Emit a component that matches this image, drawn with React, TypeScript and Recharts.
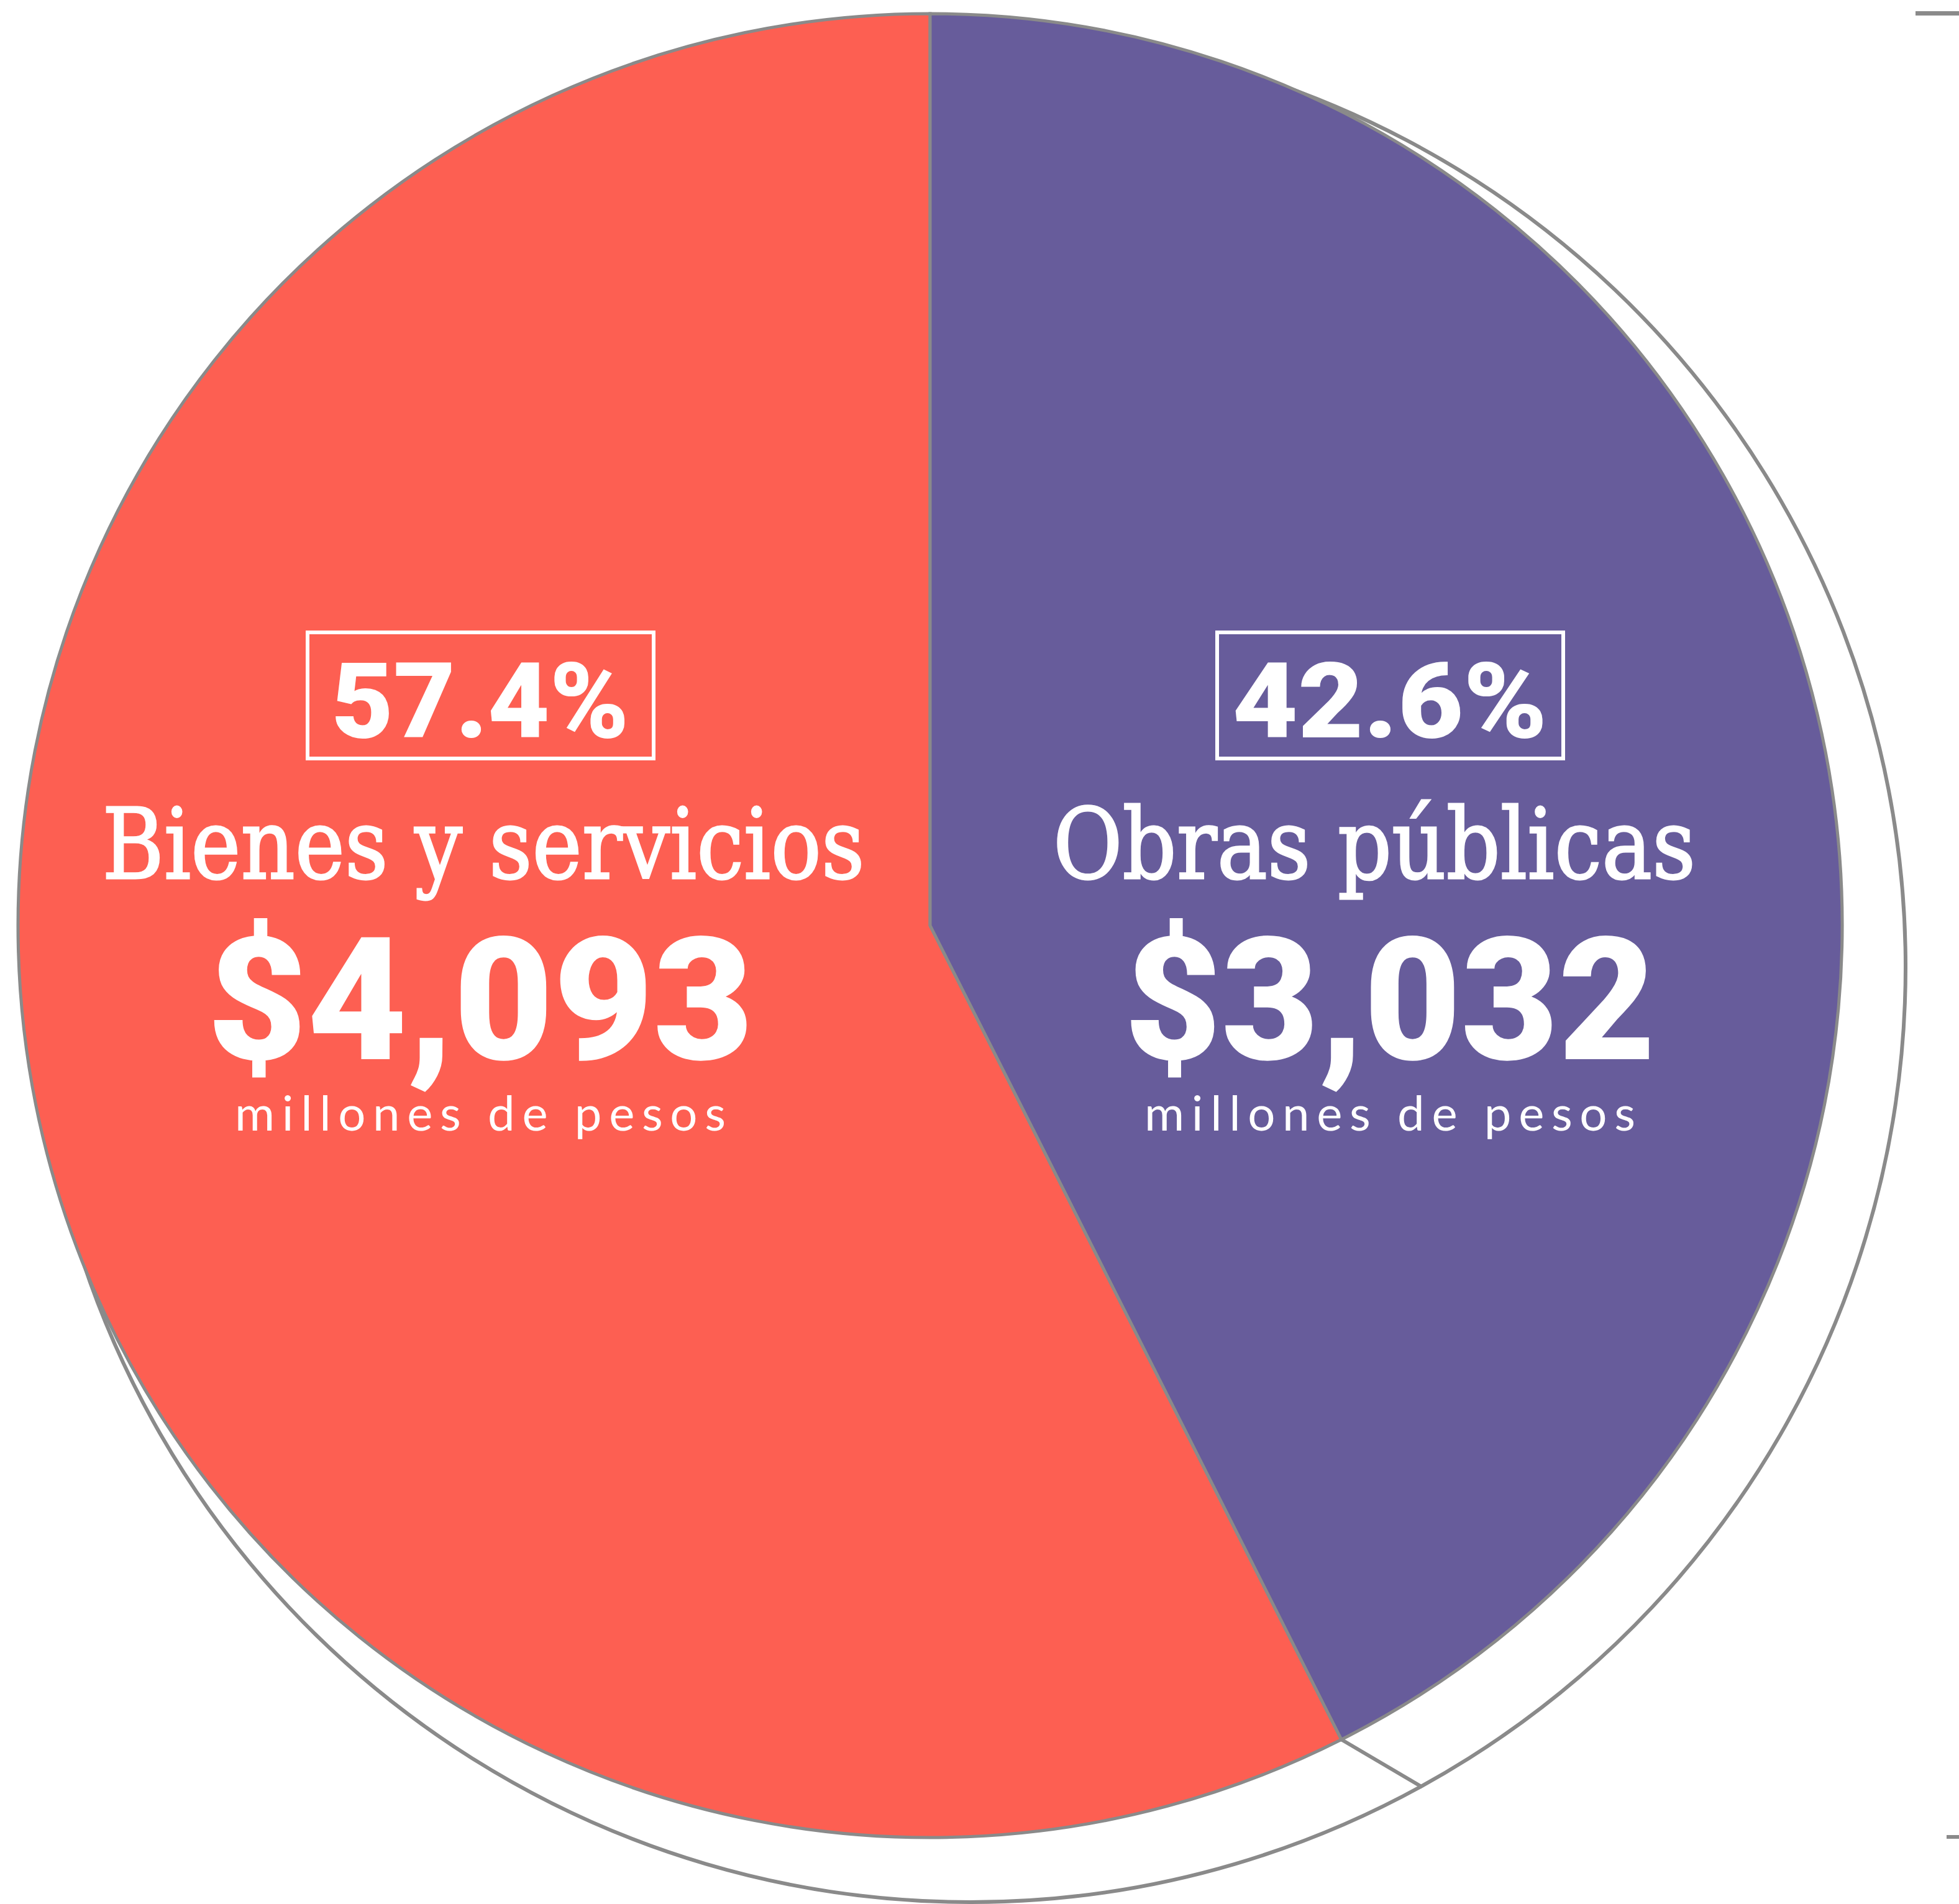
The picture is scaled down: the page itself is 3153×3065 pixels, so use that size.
import { PieChart, Pie, Cell } from 'recharts'

// datos
const categorias = ['Bienes y servicios', 'Obras públicas']
const montos = [4093, 3032]
const unidad = 'millones de pesos'
const colores = ['#FD5F52', '#675C9B']

const GRIS = '#8a8a8a'
const W = 3153
const H = 3065

// pastel frontal y "sombra" trasera
const FRONT = { cx: 1497, cy: 1490, r: 1468 }
const BACK = { cx: 1562, cy: 1557, r: 1505 }
const SKEW = 2

// posiciones de etiquetas (relativas al centro)
const DX = [-724, 740]
const TITLE_DX = [-719, 715]
const PCT_W = [479, 507]
const TITLE_W = [1227, 1034]
const VALUE_W = [879, 855]

const data = categorias.map((name, i) => ({ name, value: montos[i] }))
const total = montos.reduce((a, b) => a + b, 0)
const sombra = [{ name: 'total', value: total }]

const RAD = Math.PI / 180
const polar = (cx: number, cy: number, r: number, a: number) => ({
    x: cx + r * Math.cos(-a * RAD),
    y: cy + r * Math.sin(-a * RAD),
})

function FrontLabel(props: any) {
    const { cx, cy, outerRadius, startAngle, index, value } = props
    const x = cx + DX[index]
    const pct = ((value / total) * 100).toFixed(1) + '%'
    const monto = '$' + value.toLocaleString('en-US')
    // arista entre el pastel y su sombra, sólo si queda fuera del círculo frontal
    const f = polar(cx, cy, outerRadius, startAngle)
    const b = polar(BACK.cx, BACK.cy, BACK.r, startAngle + SKEW)
    const fuera = Math.hypot(b.x - cx, b.y - cy) > outerRadius
    return (
        <g>
            {fuera && <line x1={f.x} y1={f.y} x2={b.x} y2={b.y} stroke={GRIS} strokeWidth={6} />}
            <rect x={x - 278} y={cy - 472} width={557} height={203} fill="none" stroke="#fff" strokeWidth={6} />
            <text x={x} y={cy - 303} textAnchor="middle" fill="#fff" fontFamily="Roboto" fontWeight={900} fontSize={168}
                textLength={PCT_W[index]} lengthAdjust="spacingAndGlyphs">{pct}</text>
            <text x={cx + TITLE_DX[index]} y={cy - 76} textAnchor="middle" fill="#fff" stroke="#fff" strokeWidth={3}
                fontFamily="DejaVu Serif" fontSize={158}
                textLength={TITLE_W[index]} lengthAdjust="spacingAndGlyphs">{categorias[index]}</text>
            <text x={x} y={cy + 215} textAnchor="middle" fill="#fff" fontFamily="Roboto" fontWeight={900} fontSize={276}
                textLength={VALUE_W[index]} lengthAdjust="spacingAndGlyphs">{monto}</text>
            <text x={x} y={cy + 330} textAnchor="middle" fill="#fff" fontFamily="Lato" fontSize={78}
                textLength={790} lengthAdjust="spacing">{unidad}</text>
        </g>
    )
}

export default function App() {
    return (
        <div style={{ position: 'absolute', left: 0, top: 0, width: W, height: H, background: '#fff' }}>
            <PieChart width={W} height={H} margin={{ top: 0, right: 0, bottom: 0, left: 0 }}>
                <Pie data={sombra} dataKey="value" cx={BACK.cx} cy={BACK.cy} outerRadius={BACK.r}
                    startAngle={90} endAngle={450} fill="#fff" stroke={GRIS} strokeWidth={6}
                    isAnimationActive={false} />
                <Pie data={data} dataKey="value" cx={FRONT.cx} cy={FRONT.cy} outerRadius={FRONT.r}
                    startAngle={90} endAngle={450} stroke={GRIS} strokeWidth={5}
                    label={FrontLabel} labelLine={false} isAnimationActive={false}>
                    {data.map((d, i) => <Cell key={d.name} fill={colores[i]} />)}
                </Pie>
            </PieChart>
            <div style={{ position: 'absolute', left: 3083, top: 18, width: 70, height: 7, background: GRIS }} />
            <div style={{ position: 'absolute', left: 3133, top: 2954, width: 20, height: 6, background: GRIS }} />
        </div>
    )
}
